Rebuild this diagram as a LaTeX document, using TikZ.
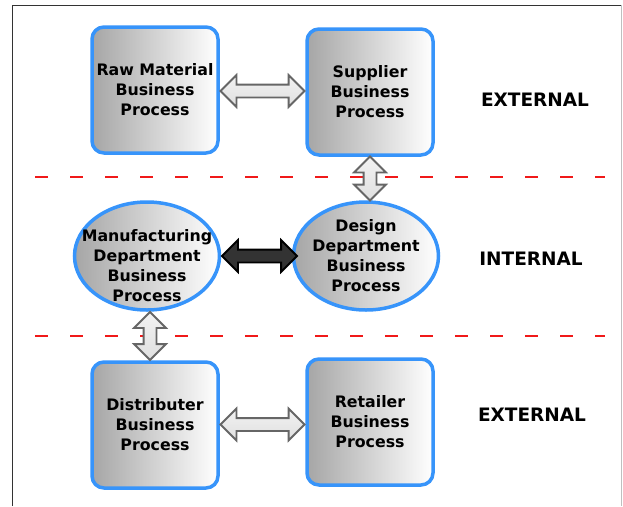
\documentclass[tikz,border=0pt]{standalone}
\usepackage{fontspec}
\setmainfont{DejaVu Sans}
\usetikzlibrary{calc}
\usetikzlibrary{shapes.geometric}
\usetikzlibrary{shapes.arrows}

\definecolor{boxblue}{RGB}{55,148,250}
\definecolor{zonered}{RGB}{240,25,25}

\newcommand{\procfont}{\fontsize{15.8}{20}\selectfont\bfseries}
\newcommand{\zonefont}{\fontsize{18.5}{20}\selectfont\bfseries}

\tikzset{
	procbox/.style	= {draw=boxblue, line width=3.5pt, rounded corners=12pt, left color=gray!70, right color=white, minimum width=126pt, minimum height=126pt, align=center, font=\procfont},
	procoval/.style	= {ellipse, draw=boxblue, line width=3.5pt, left color=gray!70, right color=white, minimum width=145pt, minimum height=108pt},
	proctext/.style	= {align=center, font=\procfont, inner sep=0pt},
	linkarrow/.style	= {double arrow, draw=black!60, line width=1.8pt, top color=gray!10, bottom color=gray!25, inner sep=5.5pt, double arrow head extend=9.5pt, double arrow head indent=0pt},
	corearrow/.style	= {double arrow, draw=black, line width=1.8pt, top color=black!80, middle color=gray!70, bottom color=black!80, inner sep=5.5pt, double arrow head extend=9.5pt, double arrow head indent=0pt},
	zoneline/.style	= {draw=zonered, line width=2pt, dash pattern=on 13pt off 22pt},
}

\begin{document}
\begin{tikzpicture}[x=1pt, y=-1pt]
	\useasboundingbox (0,0) rectangle (623,506);

	\coordinate (rawpos)	at (155,90);
	\coordinate (suppos)	at (370,92);
	\coordinate (manpos)	at (147,256);
	\coordinate (despos)	at (366,256);
	\coordinate (dispos)	at (155,425);
	\coordinate (retpos)	at (370,422);

	% frame
	\draw[black!80, line width=1pt] (12,506) -- (12,5) -- (621,5);
	\draw[black!25, line width=1pt] (621,5) -- (621,506);

	% zone borders
	\draw[zoneline] (35,177) -- (605,177);
	\draw[zoneline] (35,336) -- (605,336);

	\node[procbox]	(raw)	at (rawpos)	{Raw Material\\Business\\Process};
	\node[procbox]	(sup)	at (suppos)	{Supplier\\Business\\Process};
	\node[procoval]	(man)	at (manpos)	{};
	\node[procoval]	(des)	at (despos)	{};
	\node[procbox]	(dis)	at (dispos)	{Distributer\\Business\\Process};
	\node[procbox]	(ret)	at (retpos)	{Retailer\\Business\\Process};

	\node[proctext, yshift=-10pt]	(mantext)	at (man)	{Manufacturing\\Department\\Business\\Process};
	\node[proctext]	(destext)	at (des)	{Design\\Department\\Business\\Process};

	\node[font=\zonefont]	(zoneA)	at (535,100)	{EXTERNAL};
	\node[font=\zonefont]	(zoneB)	at (531,259)	{INTERNAL};
	\node[font=\zonefont]	(zoneC)	at (532,415)	{EXTERNAL};

	\node[linkarrow, minimum height=84pt]	(rawsup)	at ($(raw.east)!.5!(sup.west)$)	{};
	\node[linkarrow, minimum height=44pt, shape border rotate=90]	(supdes)	at ($(sup.south)!.5!(sup.south|-des.north)$)	{};
	\node[corearrow, minimum height=75pt]	(mandes)	at ($(man.east)!.5!(des.west)+(3,0)$)	{};
	\node[linkarrow, minimum height=48pt, shape border rotate=90]	(mandis)	at ($(man.south)!.5!(man.south|-dis.north)+(3,0)$)	{};
	\node[linkarrow, minimum height=84pt]	(disret)	at ($(dis.east)!.5!(ret.west)+(0,1)$)	{};
\end{tikzpicture}
\end{document}
